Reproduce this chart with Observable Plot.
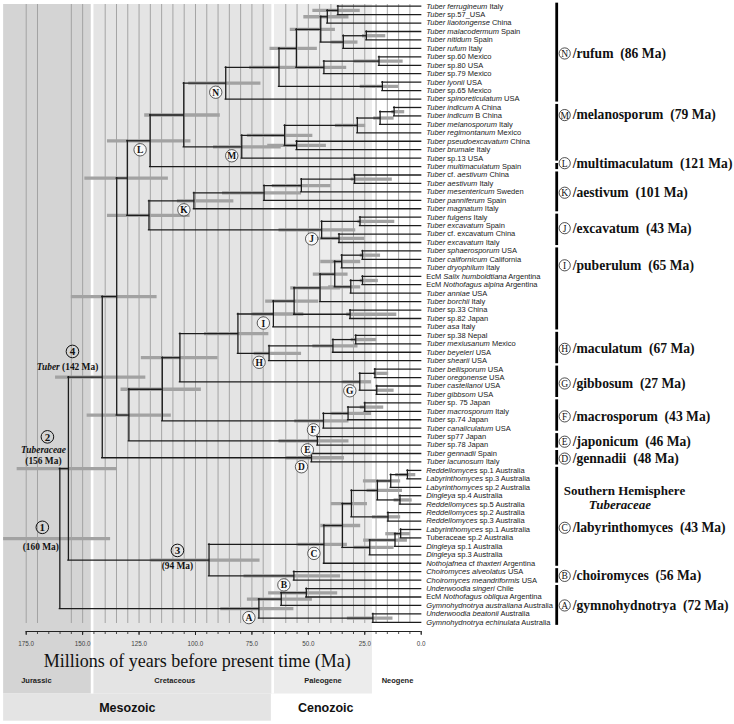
<!DOCTYPE html>
<html><head><meta charset="utf-8">
<script src="https://cdn.jsdelivr.net/npm/d3@7"></script>
<script src="https://cdn.jsdelivr.net/npm/@observablehq/plot@0.6"></script>
<style>body{margin:0;background:#fff}</style>
</head><body><div id="chart"></div>
<script>
// ---------- DATA ----------
const tipLabels = [
"*Tuber ferrugineum* Italy","*Tuber* sp.57_USA","*Tuber liaotongense* China","*Tuber malacodermum* Spain",
"*Tuber nitidum* Spain","*Tuber rufum* Italy","*Tuber* sp.60 Mexico","*Tuber* sp.80 USA","*Tuber* sp.79 Mexico",
"*Tuber lyonii* USA","*Tuber* sp.65 Mexico","*Tuber spinoreticulatum* USA","*Tuber indicum* A China",
"*Tuber indicum* B China","*Tuber melanosporum* Italy","*Tuber regimontanum* Mexico","*Tuber pseudoexcavatum* China",
"*Tuber brumale* Italy","*Tuber* sp.13 USA","*Tuber multimaculatum* Spain","*Tuber* cf. *aestivum* China",
"*Tuber aestivum* Italy","*Tuber mesentericum* Sweden","*Tuber panniferum* Spain","*Tuber magnatum* Italy",
"*Tuber fulgens* Italy","*Tuber excavatum* Spain","*Tuber* cf. excavatum China","*Tuber excavatum* Italy",
"*Tuber sphaerosporum* USA","*Tuber californicum* California","*Tuber dryophilum* Italy",
"EcM *Salix humboldtiana* Argentina","EcM *Nothofagus alpina* Argentina","*Tuber anniae* USA","*Tuber borchii* Italy",
"*Tuber* sp.33 China","*Tuber* sp.82 Japan","*Tuber asa* Italy","*Tuber* sp.38 Nepal","*Tuber mexiusanum* Mexico",
"*Tuber beyeleri* USA","*Tuber shearii* USA","*Tuber bellisporum* USA","*Tuber oregonense* USA",
"*Tuber castellanoi* USA","*Tuber gibbsom* USA","*Tuber* sp. 75 Japan","*Tuber macrosporum* Italy",
"*Tuber* sp.74 Japan","*Tuber canaliculatum* USA","*Tuber* sp77 Japan","*Tuber* sp.78 Japan",
"*Tuber gennadii* Spain","*Tuber lacunosum* Italy","*Reddellomyces* sp.1 Australia","*Labyrinthomyces* sp.3 Australia",
"*Labyrinthomyces* sp.2 Australia","*Dingleya* sp.4 Australia","*Reddellomyces* sp.5 Australia",
"*Reddellomyces* sp.2 Australia","*Reddellomyces* sp.3 Australia","*Labyrinthomyces* sp.1 Australia",
"Tuberaceae sp.2 Australia","*Dingleya* sp.1 Australia","*Dingleya* sp.3 Australia",
"*Nothojafnea* cf *thaxteri* Argentina","*Choiromyces alveolatus* USA","*Choiromyces meandriformis* USA",
"*Underwoodia singeri* Chile","EcM *Nothofagus obliqua* Argentina","*Gymnohydnotrya australiana* Australia",
"*Underwoodia beatonii* Australia","*Gymnohydnotrya echinulata* Australia"
];

// internal nodes (children: tip index or node id), ages in Ma, 95% HPD
const nodeIds    = ["n1","n2","n3","n4","n5","n6","n7","n8","n9","n10","N","m1","m2","m3","m4","m5","M","nm","L",
  "k1","k2","k3","K","j1","j2","J","kj","lkj","i1","i2","i3","i4","i5","i6","i7","i8","I","h1","h2","H","ih",
  "g1","g2","G","ihg","f1","f2","F","ihgf","E","ihgfe","t1","D","T","c1","c2","c3","c4","c5","c6","c7","c8","c9",
  "c10","C","B","n3b","n2b","a1","a2","a3","A","root"];
const nodeChildA = [0,"n1",3,"n3","n2",6,"n6","n5",9,"n8","n10",12,"m1","m2",16,"m3","m5","N","nm",
  20,"k1","k2","k3",25,27,"j1","K","L",29,"i1",32,"i3","i2","i5",36,"i6","i8",39,"h1","h2","I",
  43,45,"g1","ih",47,"f1","f2","ihg",51,"ihgf","lkj",53,"t1",55,"c1",58,"c2",60,"c4",62,"c7","c8",
  "c6","c10",67,"C","T",69,"a1",72,"a2","n2b"];
const nodeChildB = [1,2,4,5,"n4",7,8,"n7",10,"n9",11,13,14,15,17,"m4",18,"M",19,
  21,22,23,24,26,28,"j2","J","kj",30,31,33,34,"i4",35,37,"i7",38,40,41,42,"H",
  44,46,"g2","G",48,49,50,"F",52,"E","ihgfe",54,"D",56,57,59,"c3",61,"c5",63,64,65,
  "c9",66,68,"B","n3b",70,71,73,"a3","A"];
const nodeAges = [36.9,41.6,24.3,34.5,44.5,18.7,43.1,55.3,17.2,63,86.6,12,18.2,28.3,55.2,60.5,79.5,105.2,120.1,
  29.5,53.1,69.6,100.7,27.1,36.4,44.1,120.6,130.2,26,35.2,26,31.2,38.3,44.8,31.5,56.3,65.5,29,39.1,67.4,81.2,
  20.5,19.7,27.2,106.9,25,32.4,43.3,114.7,46,129.5,134.9,48.6,141.3,6.1,13.5,9.4,19.4,14.7,30.9,9.1,11.6,22.8,
  34.9,43.1,56.4,94,156.3,50.9,62,21.4,71.9,160.1];
const hpdYoung = [27,32,15.7,28,38,8,33,46,10,50,71,7.3,12,24.6,42,48,62,89,102,
  12.8,40,53,83,11.7,25,29,102.4,112,18,26.8,19,26.8,32.4,35.7,10.8,45.4,52,19.7,28,53,67.5,
  14.4,12,22,90,16.6,22,32,97.4,32,110.7,117,34,122,2.4,9.1,4,8.3,9.1,23.8,4.7,6.1,12,
  26.8,32.7,35.7,71.4,134.6,37,48.2,12.5,56.4,137.6];
const hpdOld = [48,52,26,40,58,30,50,67,27,76,103,13,21,38,68,77,92,122.5,139,
  31,66,88,108,28,47,63,139,149,27,44.5,27,41,47.8,57.8,33,68.9,75,31,48,74,96,
  21,20,35,124,27,40,56,133,63,148,155,60,162,11.3,25.6,12,24,21.6,39.8,15.7,25.5,30,
  44.5,55,78.5,120,179,67.6,77,32.7,88.8,185];

// named clades (right-hand column)
const cladeLetters  = ["N","M","L","K","J","I","H","G","F","E","D","C","B","A"];
const cladeNames    = ["/rufum","/melanosporum","/multimaculatum","/aestivum","/excavatum","/puberulum","/maculatum",
  "/gibbosum","/macrosporum","/japonicum","/gennadii","/labyrinthomyces","/choiromyces","/gymnohydnotrya"];
const cladeAgeText  = ["(86 Ma)","(79 Ma)","(121 Ma)","(101 Ma)","(43 Ma)","(65 Ma)","(67 Ma)","(27 Ma)","(43 Ma)",
  "(46 Ma)","(48 Ma)","(43 Ma)","(56 Ma)","(72 Ma)"];
const cladeFirstTip = [0,12,19,20,25,29,39,43,47,51,53,55,67,69];
const cladeLastTip  = [11,18,19,24,28,38,42,46,50,52,54,66,68,73];
const cladeLabelRow = [5.6,12.9,18.6,22.1,26.3,30.7,40.6,44.7,48.6,51.6,53.6,61.8,67.5,71.0];
const groupTitle    = ["Southern Hemisphere","*Tuberaceae*"];

// numbered calibration nodes
const keyNodes   = ["root","n2b","T","n3b"];
const keyNumbers = ["1","2","4","3"];
const keyTaxa    = ["","*Tuberaceae*","*Tuber* (142 Ma)",""];
const keyAges    = ["(160 Ma)","(156 Ma)","","(94 Ma)"];

// time axis
const majorTicks = [175,150,125,100,75,50,25,0];
const minorTicks = [175,170,165,160,155,150,145,140,135,130,125,120,115,110,105,100,95,90,85,80,75,70,65,60,55,50,45,40,35,30,25,20,15,10,5,0];
const gridAges   = [175,170,155,150,140,135,130,125,120,115,110,105,100,95,90,85,80,75,70,60,55,50,45,40,35,30,25,20,15,10,5];
const axisTitle  = "Millions of years before present time (Ma)";

// geological periods / eras
const periodNames    = ["Jurassic","Cretaceous","Paleogene","Neogene"];
const periodOld      = [185,145.8,65.8,21.6];
const periodYoung    = [145.8,65.8,21.6,0];
const periodLabelAge = [170.5,109.2,43.5,10.5];
const eraNames       = ["Mesozoic","Cenozoic"];
const eraOld         = [185,65.8];
const eraYoung       = [65.8,0];
const eraLabelAge    = [130.2,42.3];

// ---------- BUILD ----------
const nodeIndex = new Map(nodeIds.map((id,i)=>[id,i]));
const rowCache = new Map();
function rowOf(c){
  if (typeof c === "number") return c;
  if (rowCache.has(c)) return rowCache.get(c);
  const i = nodeIndex.get(c);
  const r = (rowOf(nodeChildA[i]) + rowOf(nodeChildB[i]))/2;
  rowCache.set(c,r); return r;
}
function ageOf(c){ return typeof c === "number" ? 0 : nodeAges[nodeIndex.get(c)]; }
const nodes = nodeIds.map((id,i)=>({id, age: nodeAges[i], row: rowOf(id), lo: hpdYoung[i], hi: hpdOld[i],
  rA: rowOf(nodeChildA[i]), rB: rowOf(nodeChildB[i])}));
const horiz = [];
nodeIds.forEach((id,i)=>{
  for (const c of [nodeChildA[i], nodeChildB[i]]) horiz.push({row: rowOf(c), x1: nodeAges[i], x2: ageOf(c)});
});
const tips = tipLabels.map((label,i)=>({label,row:i}));
const clades = cladeLetters.map((l,i)=>({letter:l, name:cladeNames[i], age:cladeAgeText[i],
  first:cladeFirstTip[i], last:cladeLastTip[i], labelRow:cladeLabelRow[i],
  node: nodes[nodeIndex.get(l)]}));
const periods = periodNames.map((n,i)=>({name:n, old:periodOld[i], young:periodYoung[i], at:periodLabelAge[i]}));
const eras = eraNames.map((n,i)=>({name:n, old:eraOld[i], young:eraYoung[i], at:eraLabelAge[i]}));

const Y0 = 5.7, DY = 8.44;             // layout: pixel position of row 0, px per row
const py = px => (px - Y0)/DY;         // pixel -> row helper for decorations
const serif = "Liberation Serif, Times New Roman, serif";
const sans = "Liberation Sans, Arial, Helvetica, sans-serif";
const band = (name, fill, y1, y2, extra={}) => Plot.rect(periods.filter(d=>d.name===name),
  {x1:"old", x2:"young", y1: py(y1), y2: py(y2), fill, ...extra});

const keyMarks = [];
const keyOffsets = {root:{n:[-17.5,-11.3], t:[0,0], a:[-19,8.6]},
                    n2b:{n:[-21,-31.8], t:[-25,-18.5], a:[-25,-7.3]},
                    T:{n:[-29.8,-25.7], t:[-34.8,-10], a:[0,0]},
                    n3b:{n:[-31.6,-9.7], t:[0,0], a:[-31.6,6]}};
keyNodes.forEach((id,i)=>{
  const nd = [nodes[nodeIndex.get(id)]];
  const o = keyOffsets[id];
  keyMarks.push(Plot.dot(nd,{x:"age",y:"row",dx:o.n[0],dy:o.n[1],r:6.3,fill:"none",stroke:"#111",strokeWidth:1}));
  keyMarks.push(Plot.text(nd,{x:"age",y:"row",dx:o.n[0],dy:o.n[1]+0.5,text:()=>keyNumbers[i],fontFamily:serif,fontWeight:"bold",fontSize:11,fill:"#111"}));
  if (keyTaxa[i]) keyMarks.push(Plot.text(nd,{x:"age",y:"row",dx:o.t[0],dy:o.t[1],text:()=>keyTaxa[i],fontFamily:serif,fontWeight:"bold",fontSize:9.4,fill:"#111"}));
  if (keyAges[i]) keyMarks.push(Plot.text(nd,{x:"age",y:"row",dx:o.a[0],dy:o.a[1],text:()=>keyAges[i],fontFamily:serif,fontWeight:"bold",fontSize:9.4,fill:"#111"}));
});

const plot = Plot.plot({
  width: 734, height: 724,
  marginTop: 0, marginLeft: 0, marginRight: 0, marginBottom: 93,
  x: {domain: [175, 0], range: [25.7, 420.7], axis: null},
  y: {domain: [0, 73], range: [Y0, Y0 + 73*DY], axis: null},
  style: {background: "white", overflow: "visible"},
  marks: [
    // geological bands
    band("Jurassic", "#d4d4d4", 4, 693.5),
    band("Cretaceous", "#e4e4e4", 4, 693.5),
    band("Paleogene", "#ececec", 4, 693.5),
    Plot.rect(eras.filter(d=>d.name==="Mesozoic"), {x1:"old", x2:"young", y1: py(693.5), y2: py(720.7), fill:"#e4e4e4", insetRight:1.3}),
    // white separators between periods
    Plot.ruleX([145.8, 65.8], {y1: py(4), y2: py(693.5), stroke:"white", strokeWidth:2.7}),
    // grid
    Plot.ruleX(gridAges, {y1: py(4), y2: py(623), stroke:"#9d9d9d", strokeWidth:0.9}),
    // HPD bars
    Plot.ruleY(nodes, {y:"row", x1:"hi", x2:"lo", stroke:"#a2a2a2", strokeWidth:3.3}),
    // tree
    Plot.ruleY(horiz, {y:"row", x1:"x1", x2:"x2", stroke:"#1c1c1c", strokeWidth:1.3, strokeLinecap:"square"}),
    Plot.ruleX(nodes, {x:"age", y1:"rA", y2:"rB", stroke:"#1c1c1c", strokeWidth:1.3, strokeLinecap:"square"}),
    // clade letters on tree
    Plot.dot(clades, {x:d=>d.node.age, y:d=>d.node.row, dx:-10, dy:9, r:6.2, fill:"white", fillOpacity:0.75, stroke:"#333", strokeWidth:0.8}),
    Plot.text(clades, {x:d=>d.node.age, y:d=>d.node.row, dx:-10, dy:9.5, text:"letter", fontFamily:serif, fontWeight:"bold", fontSize:9.5, fill:"#111"}),
    ...keyMarks,
    // tip labels
    Plot.text(tips, {x:0, y:"row", dx:5, text:"label", textAnchor:"start", fontFamily:sans, fontSize:7.5, fill:"#1a1a1a"}),
    // clade bars & labels
    Plot.ruleX(clades, {x:0, dx:135.5, y1:d=>d.first-0.36, y2:d=>d.last+0.36, stroke:"#000", strokeWidth:2.8}),
    Plot.dot(clades, {x:0, y:"labelRow", dx:143.5, r:5.6, fill:"white", stroke:"#222", strokeWidth:0.8}),
    Plot.text(clades, {x:0, y:"labelRow", dx:143.5, dy:0.5, text:"letter", fontFamily:serif, fontSize:9.5, fill:"#111"}),
    Plot.text(clades, {x:0, y:"labelRow", dx:151.5, text:d=>d.name+"\u00a0\u00a0"+d.age, textAnchor:"start", fontFamily:serif, fontWeight:"bold", fontSize:13.6, fill:"#111"}),
    Plot.text([groupTitle[0]], {x:0, y:57.45, dx:142.5, text:d=>d, textAnchor:"start", fontFamily:serif, fontWeight:"bold", fontSize:13, fill:"#111"}),
    Plot.text([groupTitle[1]], {x:0, y:59.1, dx:167.5, text:d=>d, textAnchor:"start", fontFamily:serif, fontWeight:"bold", fontSize:13, fill:"#111"}),
    // time axis
    Plot.ruleY([py(631)], {x1:175, x2:0, stroke:"#222", strokeWidth:1}),
    Plot.ruleX(minorTicks, {y1:py(631), y2:py(634), stroke:"#222", strokeWidth:0.8}),
    Plot.ruleX(majorTicks, {y1:py(631), y2:py(635), stroke:"#222", strokeWidth:1}),
    Plot.text(majorTicks, {x:d=>d, y:py(643.5), text:d=>d.toFixed(1), fontFamily:sans, fontSize:6.3, fill:"#444"}),
    Plot.text([axisTitle], {x:99.2, y:py(660.5), text:d=>d, fontFamily:serif, fontSize:18, fill:"#111"}),
    Plot.text(periods, {x:"at", y:py(680), text:"name", fontFamily:sans, fontWeight:"bold", fontSize:7.5, fill:"#222"}),
    Plot.text(eras, {x:"at", y:py(707.5), text:"name", fontFamily:sans, fontWeight:"bold", fontSize:12.5, fill:"#111"})
  ]
});

// italic runs marked with *...*
plot.querySelectorAll("text").forEach(t=>{
  const s = t.textContent;
  if (!s.includes("*")) return;
  while (t.firstChild) t.removeChild(t.firstChild);
  s.split("*").forEach((part,i)=>{
    if (!part) return;
    const ts = document.createElementNS("http://www.w3.org/2000/svg","tspan");
    if (i % 2 === 1) ts.setAttribute("font-style","italic");
    ts.textContent = part;
    t.appendChild(ts);
  });
});
document.getElementById("chart").appendChild(plot);
</script>
</body></html>
